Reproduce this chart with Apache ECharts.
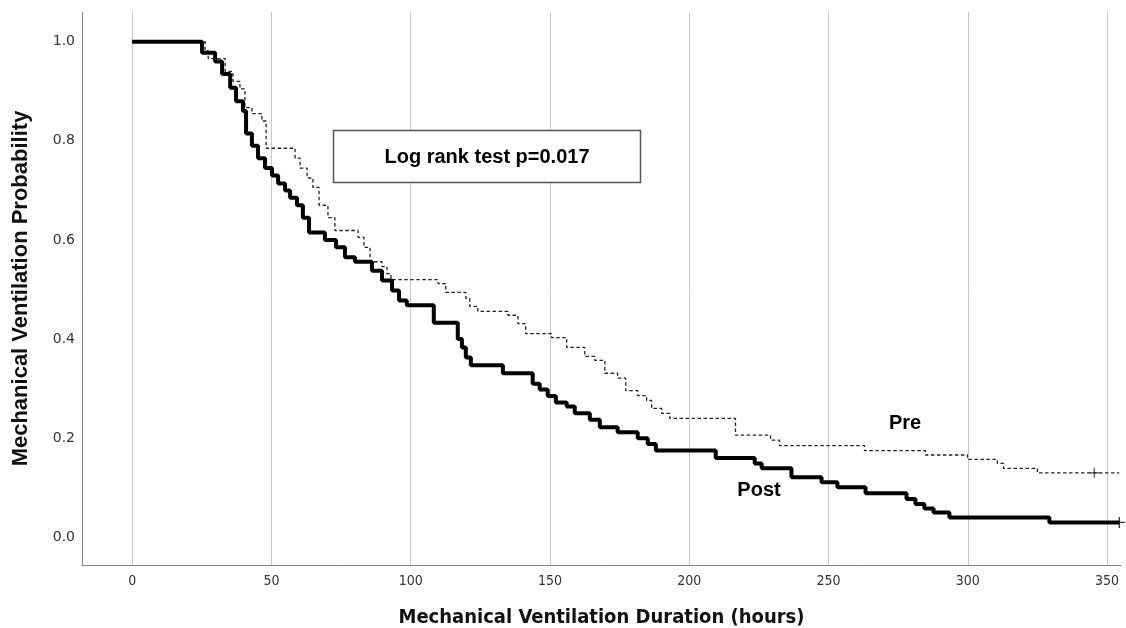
<!DOCTYPE html>
<html>
<head>
<meta charset="utf-8">
<script src="https://cdn.jsdelivr.net/npm/echarts@6/dist/echarts.min.js"></script>
<style>
  html, body { margin: 0; padding: 0; background: #fff; }
  #km { width: 1126px; height: 628px; }
</style>
</head>
<body>
<div id="km"></div>
<script>
// Kaplan-Meier curves (hours, probability)
var postTime = [0, 25.1, 29.8, 32.3, 35.2, 37.3, 39.8, 40.9, 43.0, 45.2, 47.7, 50.2, 52.4, 54.9, 56.7, 59.2, 61.3, 63.5,
  69.2, 73.2, 76.4, 80.0, 86.1, 89.7, 93.3, 95.8, 98.6, 108.3, 116.9, 118.4, 119.8, 121.6, 133.1, 143.8, 146.3,
  149.2, 152.1, 156.0, 158.9, 164.3, 167.9, 174.3, 181.5, 185.1, 188.0, 209.5, 223.5, 226.0, 236.7, 247.5, 253.2,
  263.3, 278.0, 281.2, 284.4, 287.7, 293.4, 329.3, 354.4];
var postSurv = [1.0, 0.978, 0.96, 0.935, 0.907, 0.88, 0.86, 0.815, 0.79, 0.765, 0.745, 0.73, 0.714, 0.70, 0.685, 0.67, 0.645, 0.615,
  0.60, 0.585, 0.565, 0.556, 0.538, 0.518, 0.498, 0.478, 0.468, 0.433, 0.40, 0.383, 0.363, 0.347, 0.331, 0.31, 0.298,
  0.285, 0.272, 0.264, 0.25, 0.237, 0.222, 0.212, 0.20, 0.188, 0.175, 0.16, 0.149, 0.139, 0.121, 0.111, 0.101,
  0.089, 0.077, 0.067, 0.058, 0.05, 0.04, 0.03, 0.03];

var preTime = [0, 26.2, 27.3, 33.4, 36.2, 38.7, 40.5, 43.0, 46.6, 48.1, 58.5, 60.3, 62.8, 64.9, 67.1, 70.3, 72.8, 81.1,
  83.2, 85.4, 89.7, 91.5, 92.9, 109.8, 112.6, 119.8, 121.2, 124.1, 134.9, 138.5, 141.3, 150.6, 156.0, 162.5,
  166.1, 169.7, 174.3, 177.2, 181.5, 184.7, 186.5, 190.1, 193.0, 216.6, 229.2, 232.4, 262.9, 284.8, 299.9,
  310.6, 312.8, 325.0, 354.4];
var preSurv = [1.0, 0.982, 0.966, 0.94, 0.92, 0.905, 0.867, 0.855, 0.84, 0.785, 0.765, 0.745, 0.725, 0.706, 0.67, 0.645, 0.619, 0.605,
  0.585, 0.556, 0.546, 0.532, 0.52, 0.512, 0.494, 0.482, 0.466, 0.456, 0.448, 0.431, 0.411, 0.403, 0.383, 0.365,
  0.357, 0.331, 0.321, 0.296, 0.286, 0.276, 0.26, 0.25, 0.24, 0.206, 0.196, 0.185, 0.175, 0.166, 0.157,
  0.149, 0.139, 0.13, 0.13];

// censored observations
var preCensor = [[345.4, 0.13]];
var postCensor = [[354.4, 0.03]];

var xTicks = [0, 50, 100, 150, 200, 250, 300, 350];

function pairs(t, s) {
  return t.map(function (v, i) { return [v, s[i]]; });
}

var plusPath = 'path://M0,4.4H10V5.6H0Z M4.4,0H5.6V10H4.4Z';

var myChart = echarts.init(document.getElementById('km'));

option = {
  animation: false,
  grid: {
    left: 82,
    right: 5,
    top: 12,
    bottom: 63,
    outerBoundsMode: 'none',
    containLabel: false
  },
  xAxis: {
    type: 'value',
    min: -18,
    max: 355,
    splitNumber: 7,
    name: 'Mechanical Ventilation Duration (hours)',
    nameLocation: 'middle',
    nameGap: 43,
    nameTextStyle: {
      fontFamily: 'DejaVu Sans Condensed, Liberation Sans Narrow, sans-serif',
      fontWeight: 'bold',
      fontSize: 20,
      color: '#111'
    },
    axisLine: { onZero: false, lineStyle: { color: '#888', width: 1 } },
    axisTick: { show: false },
    axisLabel: {
      showMinLabel: false,
      showMaxLabel: false,
      margin: 9,
      fontFamily: 'DejaVu Sans Condensed, Liberation Sans Narrow, sans-serif',
      fontSize: 14,
      color: '#333',
      formatter: function (v) { return xTicks.indexOf(v) >= 0 ? String(v) : ''; }
    },
    splitLine: {
      show: true,
      lineStyle: { color: ['transparent', '#c8c8c8', '#c8c8c8', '#c8c8c8', '#c8c8c8', '#c8c8c8', '#c8c8c8', '#c8c8c8', '#c8c8c8', 'transparent'], width: 1 }
    }
  },
  yAxis: {
    type: 'value',
    min: -0.056,
    max: 1.06,
    splitNumber: 5,
    name: 'Mechanical Ventilation Probability',
    nameLocation: 'middle',
    nameGap: 50,
    nameTextStyle: {
      fontFamily: 'Liberation Sans, Arial, sans-serif',
      fontWeight: 'bold',
      fontSize: 22,
      color: '#111'
    },
    axisLine: { show: true, onZero: false, lineStyle: { color: '#888', width: 1 } },
    axisTick: { show: false },
    splitLine: { show: false },
    axisLabel: {
      showMinLabel: false,
      showMaxLabel: false,
      margin: 7,
      fontFamily: 'DejaVu Sans, sans-serif',
      fontSize: 14,
      color: '#333',
      formatter: function (v) { return v.toFixed(1); }
    }
  },
  series: [
    {
      name: 'Pre',
      type: 'line',
      step: 'end',
      showSymbol: false,
      lineStyle: { color: '#222', width: 1.3, type: [3.5, 2.5] },
      data: pairs(preTime, preSurv),
      z: 3
    },
    {
      name: 'Post',
      type: 'line',
      step: 'end',
      showSymbol: false,
      lineStyle: { color: '#000', width: 4 },
      data: pairs(postTime, postSurv),
      z: 4
    },
    {
      type: 'scatter',
      symbol: plusPath,
      symbolSize: 10,
      itemStyle: { color: '#222' },
      data: preCensor,
      z: 5
    },
    {
      type: 'scatter',
      symbol: plusPath,
      symbolSize: 11,
      itemStyle: { color: '#000' },
      data: postCensor,
      z: 5
    }
  ],
  graphic: [
    {
      type: 'rect',
      shape: { x: 333.5, y: 130.5, width: 307, height: 52 },
      style: { fill: '#fff', stroke: '#555', lineWidth: 1.5 },
      z: 10
    },
    {
      type: 'text',
      x: 487,
      y: 157,
      style: {
        text: 'Log rank test p=0.017',
        fontFamily: 'Liberation Sans, Arial, sans-serif',
        fontWeight: 'bold',
        fontSize: 20,
        fill: '#000',
        textAlign: 'center',
        textVerticalAlign: 'middle'
      },
      z: 11
    },
    {
      type: 'text',
      x: 905,
      y: 423,
      style: {
        text: 'Pre',
        fontFamily: 'Liberation Sans, Arial, sans-serif',
        fontWeight: 'bold',
        fontSize: 20,
        fill: '#000',
        textAlign: 'center',
        textVerticalAlign: 'middle'
      },
      z: 11
    },
    {
      type: 'text',
      x: 759,
      y: 490,
      style: {
        text: 'Post',
        fontFamily: 'Liberation Sans, Arial, sans-serif',
        fontWeight: 'bold',
        fontSize: 20,
        fill: '#000',
        textAlign: 'center',
        textVerticalAlign: 'middle'
      },
      z: 11
    }
  ]
};

myChart.setOption(option);
</script>
</body>
</html>
